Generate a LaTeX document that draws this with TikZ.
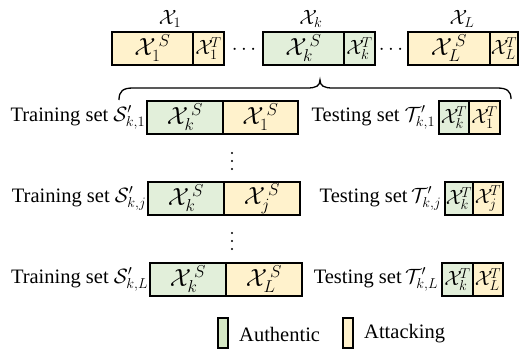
\documentclass[tikz,border=0pt]{standalone}
\usepackage{fontspec}
\setmainfont{Liberation Serif}
\definecolor{auth}{HTML}{E2EFDA}
\definecolor{att}{HTML}{FFF2CC}
\definecolor{authleg}{HTML}{D5E8C4}
\begin{document}
\begin{tikzpicture}[x=1bp,y=-1bp,
  every node/.style={font=\fontsize{20.5bp}{24bp}\selectfont},
  cell/.style={draw=black, line width=1.3bp, inner sep=0pt, minimum height=33bp,
    font=\fontsize{23bp}{26bp}\selectfont},
  tsmall/.style={font=\fontsize{21bp}{24bp}\selectfont},
  gcell/.style={cell, fill=auth},
  ycell/.style={cell, fill=att},
  lbl/.style={anchor=east, inner sep=1bp},
  legbox/.style={draw=black, line width=1.1bp, minimum width=10bp, minimum height=30bp, inner sep=0pt},
  dotc/.style={fill=black, circle, inner sep=0pt, minimum size=2.2bp}]
\useasboundingbox (0,0) rectangle (519,351);
% top row
\node[ycell, minimum width=81bp] (a1s) at (152.5,48.5) {$\mathcal{X}_1^{\,S}$};
\node[ycell, tsmall, minimum width=31bp] (a1t) at (208.5,48.5) {$\mathcal{X}_1^{\!T}$};
\node[gcell, minimum width=81bp] (aks) at (303.5,48.5) {$\mathcal{X}_k^{\,S}$};
\node[gcell, tsmall, minimum width=31bp] (akt) at (359.5,48.5) {$\mathcal{X}_k^{\!T}$};
\node[ycell, minimum width=82bp] (aLs) at (449,48.5) {$\mathcal{X}_L^{\,S}$};
\node[ycell, tsmall, minimum width=28bp] (aLt) at (504,48.5) {$\mathcal{X}_L^{\!T}$};
\node[font=\fontsize{22bp}{25bp}\selectfont] (x1) at (170,19) {$\mathcal{X}_1$};
\node[font=\fontsize{22bp}{25bp}\selectfont] (xk) at (311,19) {$\mathcal{X}_k$};
\node[font=\fontsize{22bp}{25bp}\selectfont] (xL) at (462,19) {$\mathcal{X}_L$};
\node (d1) at (244,50) {$\cdots$};
\node (d2) at (391,50) {$\cdots$};
% brace
\coordinate (bl) at (119,100);
\coordinate (bt) at (320,80);
\coordinate (br) at (511,99);
\draw[line width=1.3bp] (bl) .. controls (119,91) and (123,88) .. (133,88) -- (307,88)
  .. controls (316,88) and (320,86) .. (bt) .. controls (320,86) and (324,88) .. (333,88)
  -- (497,88) .. controls (507,88) and (511,91) .. (br);
% row 1
\node[gcell, minimum width=76bp] (r1g) at (185,117.5) {$\mathcal{X}_k^{\,S}$};
\node[ycell, minimum width=75bp] (r1y) at (260.5,117.5) {$\mathcal{X}_1^{\,S}$};
\node[lbl] (r1l) at (r1g.west) {Training set $\mathcal{S}'_{k,1}$};
\node[gcell, tsmall, minimum width=30bp] (t1g) at (454,117.5) {$\mathcal{X}_k^{\!T}$};
\node[ycell, tsmall, minimum width=31bp] (t1y) at (484.5,117.5) {$\mathcal{X}_1^{\!T}$};
\node[lbl] (t1l) at ([xshift=-2bp]t1g.west) {Testing set $\mathcal{T}'_{k,1}$};
% row 2
\node[gcell, minimum width=76bp] (r2g) at (186,198.5) {$\mathcal{X}_k^{\,S}$};
\node[ycell, minimum width=76bp] (r2y) at (262,198.5) {$\mathcal{X}_j^{\,S}$};
\node[lbl] (r2l) at (r2g.west) {Training set $\mathcal{S}'_{k,j}$};
\node[gcell, tsmall, minimum width=28bp] (t2g) at (459,198.5) {$\mathcal{X}_k^{\!T}$};
\node[ycell, tsmall, minimum width=30bp] (t2y) at (488,198.5) {$\mathcal{X}_j^{\!T}$};
\node[lbl] (t2l) at ([xshift=-2bp]t2g.west) {Testing set\,$\mathcal{T}'_{k,j}$};
% row 3
\node[gcell, minimum width=76bp] (r3g) at (188,279.5) {$\mathcal{X}_k^{\,S}$};
\node[ycell, minimum width=76bp] (r3y) at (264,279.5) {$\mathcal{X}_L^{\,S}$};
\node[lbl] (r3l) at (r3g.west) {Training set $\mathcal{S}'_{k,L}$};
\node[gcell, tsmall, minimum width=31bp] (t3g) at (457.5,279.5) {$\mathcal{X}_k^{\!T}$};
\node[ycell, tsmall, minimum width=30bp] (t3y) at (488,279.5) {$\mathcal{X}_L^{\!T}$};
\node[lbl] (t3l) at ([xshift=-2bp]t3g.west) {Testing set\,$\mathcal{T}'_{k,L}$};
% vertical dots
\foreach \y [count=\i] in {153,161,169,233,241,249} \node[dotc] (v\i) at (232,\y) {};
% legend
\node[legbox, fill=authleg] (lg) at (223,333) {};
\node[anchor=west, inner sep=0pt] (lgt) at (239,334) {Authentic};
\node[legbox, fill=att] (ly) at (348,333) {};
\node[anchor=west, inner sep=0pt] (lyt) at (364,334) {Attacking};
\end{tikzpicture}
\end{document}
